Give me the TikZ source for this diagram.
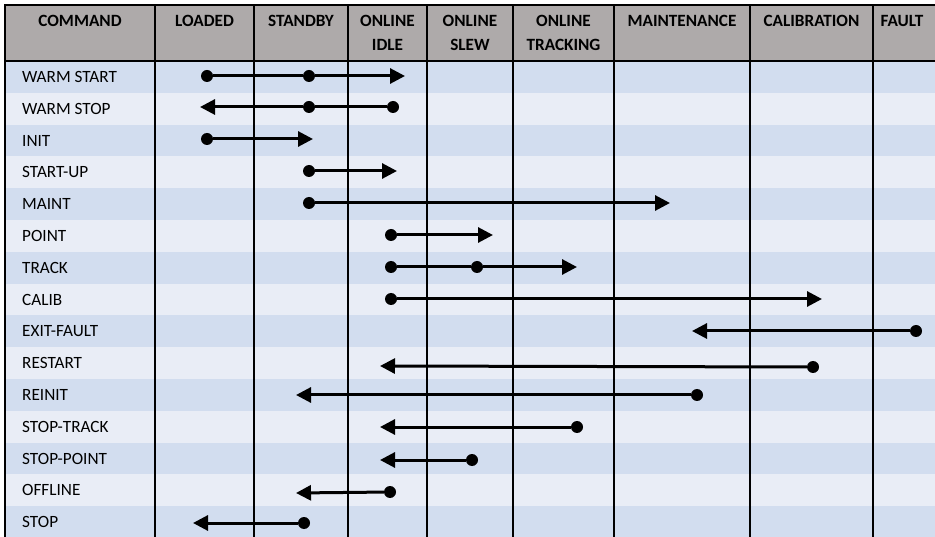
\documentclass[tikz,border=0pt]{standalone}
\usepackage{fontspec}
\setmainfont{Carlito}
\usetikzlibrary{arrows.meta}
\definecolor{headgray}{RGB}{174,170,170}
\definecolor{rowdark}{RGB}{210,221,239}
\definecolor{rowlight}{RGB}{233,237,246}
\begin{document}
\begin{tikzpicture}[x=1pt,y=-1pt]
        \useasboundingbox (0,0) rectangle (935,537);
        \clip (0,0) rectangle (935,537);
        % table background
        \fill[headgray] (5,5) rectangle (960,61);
        \foreach \i in {0,2,...,14}
            \fill[rowdark] (5,{61+31.8*\i}) rectangle (960,{61+31.8*(\i+1)});
        \foreach \i in {1,3,...,13}
            \fill[rowlight] (5,{61+31.8*\i}) rectangle (960,{61+31.8*(\i+1)});
        \foreach \x in {155,254,348,427,513,614,750,873}
            \draw[line width=1.3] (\x,5) -- (\x,545);
        \draw[line width=1.6] (960,5) -- (5,5) -- (5,545);
        \draw[line width=1.8] (5,61) -- (960,61);
        % header
        \begin{scope}[every node/.style={anchor=north,align=center,inner sep=0,font=\fontsize{17.2}{24}\selectfont\bfseries}]
            \node (hcmd)  at (80,15)    {COMMAND};
            \node (hload) at (204.5,15) {LOADED};
            \node (hstby) at (301,15)   {STANDBY};
            \node (hidle) at (387.5,15) {ONLINE\\IDLE};
            \node (hslew) at (470,15)   {ONLINE\\SLEW};
            \node (htrk)  at (563.5,15) {ONLINE\\TRACKING};
            \node (hmnt)  at (682,15)   {MAINTENANCE};
            \node (hcal)  at (811.5,15) {CALIBRATION};
            \node (hflt)  at (902,15)   {FAULT};
        \end{scope}
        % commands
        \begin{scope}[every node/.style={anchor=west,inner sep=0,font=\fontsize{17.2}{20}\selectfont}]
            \node (cwstart) at (22,76.9)  {WARM START};
            \node (cwstop)  at (22,108.7) {WARM STOP};
            \node (cinit)   at (22,140.5) {INIT};
            \node (cstart)  at (22,172.3) {START-UP};
            \node (cmaint)  at (22,204.1) {MAINT};
            \node (cpoint)  at (22,235.9) {POINT};
            \node (ctrack)  at (22,267.7) {TRACK};
            \node (ccalib)  at (22,299.5) {CALIB};
            \node (cxfault) at (22,331.3) {EXIT-FAULT};
            \node (crest)   at (22,363.1) {RESTART};
            \node (creinit) at (22,394.9) {REINIT};
            \node (cstrk)   at (22,426.7) {STOP-TRACK};
            \node (cspnt)   at (22,458.5) {STOP-POINT};
            \node (coff)    at (22,490.3) {OFFLINE};
            \node (cstop)   at (22,522.1) {STOP};
        \end{scope}
        % dots
        \begin{scope}[every node/.style={circle,fill=black,inner sep=0,minimum size=12}]
            \node (ws1) at (207,76)  {};
            \node (ws2) at (309,76)  {};
            \node (wp2) at (309,107) {};
            \node (wp3) at (393,107) {};
            \node (in1) at (207,139) {};
            \node (su1) at (309,171) {};
            \node (mt1) at (309,203) {};
            \node (pt1) at (391,235) {};
            \node (tr1) at (391,267) {};
            \node (tr2) at (477,267) {};
            \node (cl1) at (391,299) {};
            \node (xf1) at (916,331) {};
            \node (rs1) at (813,367) {};
            \node (ri1) at (697,395) {};
            \node (st1) at (577,427) {};
            \node (sp1) at (472,460) {};
            \node (of1) at (390,492) {};
            \node (so1) at (304,523) {};
        \end{scope}
        % arrow ends
        \coordinate (ws3) at (405,76);
        \coordinate (wp1) at (200,107);
        \coordinate (in2) at (313,139);
        \coordinate (su2) at (397,171);
        \coordinate (mt2) at (670,203);
        \coordinate (pt2) at (493,235);
        \coordinate (tr3) at (577,267);
        \coordinate (cl2) at (822,299);
        \coordinate (xf2) at (692,331);
        \coordinate (rs2) at (380,366);
        \coordinate (ri2) at (296,395);
        \coordinate (st2) at (380,427);
        \coordinate (sp2) at (380,460);
        \coordinate (of2) at (296,493);
        \coordinate (so2) at (193,523);
        \begin{scope}[every edge/.style={draw,line width=3}]
            \path
                (ws1) edge (ws2)
                (wp3) edge (wp2)
                (tr1) edge (tr2);
        \end{scope}
        \begin{scope}[every edge/.style={draw,line width=3,-{Triangle[length=15,width=15]}}]
            \path
                (ws2) edge (ws3)
                (wp2) edge (wp1)
                (in1) edge (in2)
                (su1) edge (su2)
                (mt1) edge (mt2)
                (pt1) edge (pt2)
                (tr2) edge (tr3)
                (cl1) edge (cl2)
                (xf1) edge (xf2)
                (rs1) edge (rs2)
                (ri1) edge (ri2)
                (st1) edge (st2)
                (sp1) edge (sp2)
                (of1) edge (of2)
                (so1) edge (so2);
        \end{scope}
    \end{tikzpicture}
\end{document}
